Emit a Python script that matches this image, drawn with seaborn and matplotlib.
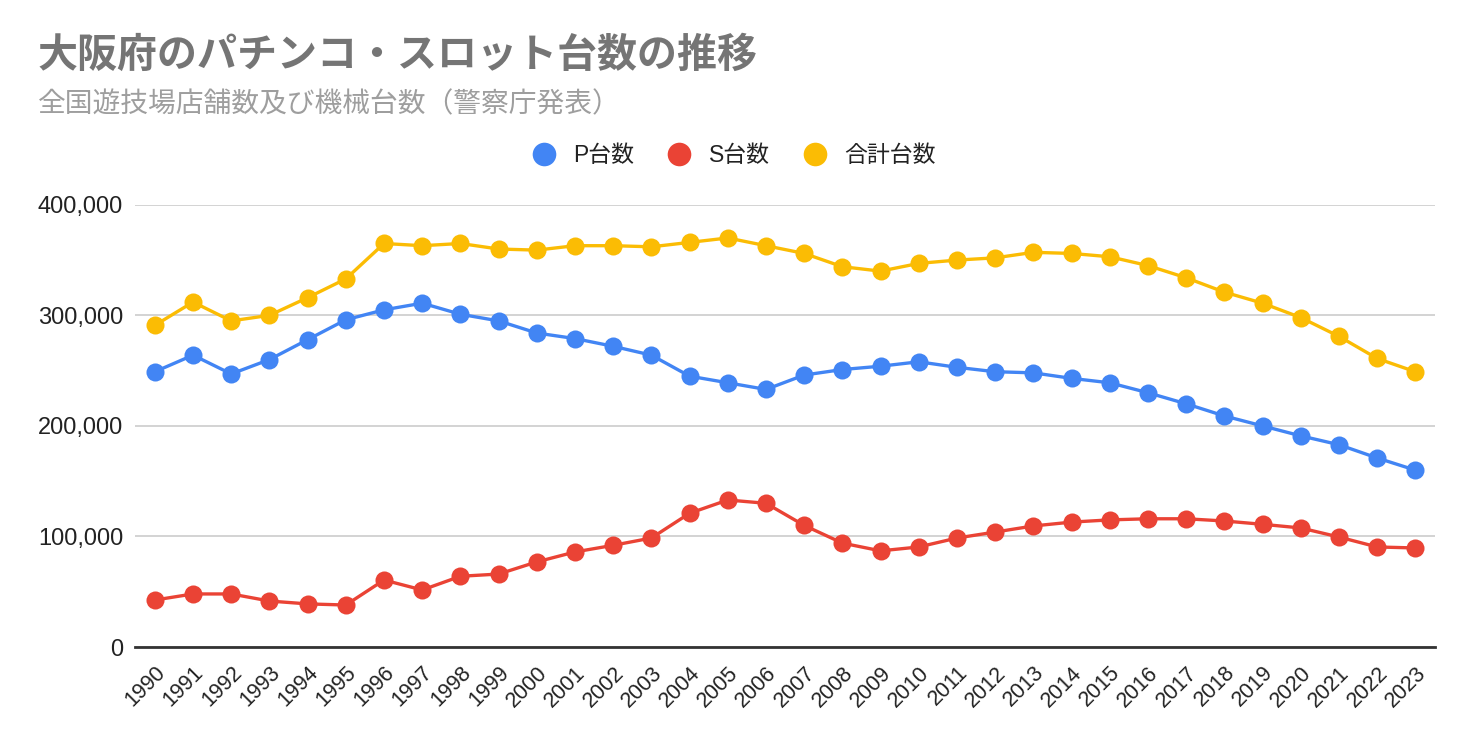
import numpy as np
import pandas as pd
import seaborn as sns
import matplotlib.pyplot as plt
from matplotlib.lines import Line2D
from matplotlib.ticker import FuncFormatter

# Data
years = [str(y) for y in range(1990, 2024)]
p_units = [249000, 264000, 247000, 260000, 278000, 296000, 305000, 311000, 301000, 295000,
           284000, 279000, 272000, 264000, 245000, 239000, 233000, 246000, 251000, 254000,
           258000, 253000, 249000, 248000, 243000, 239000, 230000, 220000, 209000, 200000,
           191000, 183000, 171000, 160000]
s_units = [42500, 48000, 48000, 41600, 39000, 38000, 60600, 51600, 64000, 66000,
           77000, 86000, 92000, 98600, 121000, 133000, 130000, 110000, 94000, 87000,
           90500, 98600, 104000, 109500, 113000, 115000, 116000, 116000, 114000, 111000,
           107700, 99500, 90500, 89600]
total_units = [291000, 312000, 295000, 300000, 316000, 333000, 365000, 363000, 365000, 360000,
               359000, 363000, 363000, 362000, 366000, 370000, 363000, 356000, 344000, 340000,
               347000, 350000, 352000, 357000, 356000, 353000, 345000, 334000, 321000, 311000,
               298000, 281000, 261000, 249000]
series_names = ['P台数', 'S台数', '合計台数']
colors = ['#4285F4', '#EA4335', '#FBBC04']

df = pd.DataFrame({
    'idx': list(range(len(years))) * 3,
    'value': p_units + s_units + total_units,
    'series': [series_names[0]] * len(years) + [series_names[1]] * len(years) + [series_names[2]] * len(years),
})

sns.set_theme(style='white')
plt.rcParams['font.family'] = ['Liberation Sans', 'Noto Sans CJK JP', 'DejaVu Sans']

fig = plt.figure(figsize=(14.72, 7.42), dpi=100)
ax = fig.add_axes([0.0917, 0.128, 0.8833, 0.596])

sns.lineplot(data=df, x='idx', y='value', hue='series', hue_order=series_names,
             palette=colors, marker='o', markersize=13, markeredgewidth=0,
             linewidth=2.4, legend=False, ax=ax, zorder=3)

ax.set_xlim(-0.52, 33.52)
ax.set_ylim(0, 400000)
ax.set_yticks([0, 100000, 200000, 300000, 400000])
ax.yaxis.set_major_formatter(FuncFormatter(lambda v, p: f'{int(v):,}'))
ax.set_xticks(range(len(years)))
ax.set_xticklabels(years, rotation=45, ha='right', rotation_mode='anchor')
ax.tick_params(axis='x', labelsize=15.5, colors='#222222', length=0, pad=11)
ax.tick_params(axis='y', labelsize=17, colors='#222222', length=0, pad=8.5)
ax.set_xlabel('')
ax.set_ylabel('')
ax.grid(axis='y', color='#cccccc', linewidth=1.2)
ax.grid(axis='x', visible=False)
for side in ['top', 'right', 'left']:
    ax.spines[side].set_visible(False)
ax.spines['bottom'].set_color('#333333')
ax.spines['bottom'].set_linewidth(2)
ax.spines['bottom'].set_zorder(4)

# Titles
fig.text(38 / 1472, 1 - 55 / 742, '大阪府のパチンコ・スロット台数の推移', fontsize=28.8,
         fontweight='bold', color='#757575', va='center', ha='left',
         family=['Noto Sans CJK JP', 'DejaVu Sans'])
fig.text(38 / 1472, 1 - 104 / 742, '全国遊技場店舗数及び機械台数（警察庁発表）', fontsize=20,
         color='#9e9e9e', va='center', ha='left',
         family=['Noto Sans CJK JP', 'DejaVu Sans'])

# Legend
handles = [Line2D([], [], marker='o', linestyle='', markersize=17, color=c, markeredgewidth=0)
           for c in colors]
fig.legend(handles, series_names, loc='center', bbox_to_anchor=(734 / 1472, 1 - 156 / 742),
           ncol=3, frameon=False, fontsize=16.5, handlelength=1.0, handletextpad=0.8,
           columnspacing=1.45, labelcolor='#222222')

fig.savefig('out.png', dpi=100)
